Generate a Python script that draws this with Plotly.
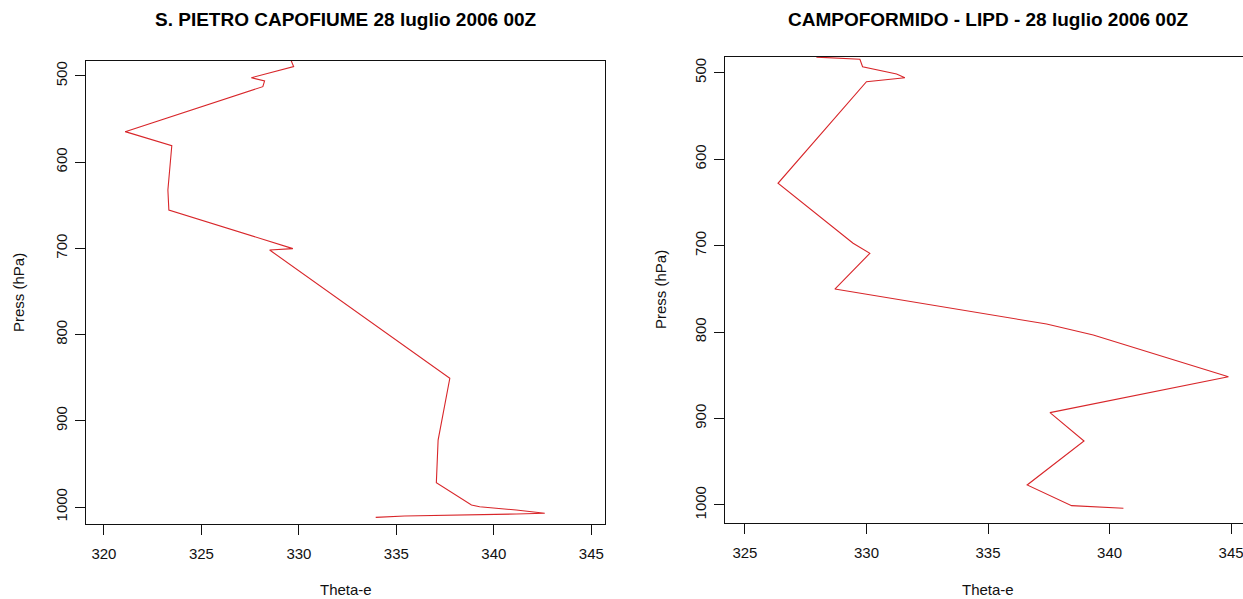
import plotly.graph_objects as go

W, H = 1243, 599

# Left: S. PIETRO CAPOFIUME
sp_theta = [329.6, 329.73, 327.56, 328.24, 328.15, 321.09, 323.48, 323.28, 323.33, 329.69, 328.5,
            337.74, 337.14, 337.05, 338.85, 339.27, 341.15, 342.61, 341.15, 338.24, 335.42, 333.94]
sp_press = [482, 489.2, 502, 505.8, 512.4, 564.6, 580.9, 632.3, 655.5, 700.3, 701.9,
            850.7, 922.3, 971.8, 997.7, 999.7, 1003.5, 1007.3, 1008.1, 1009.3, 1010.4, 1012]

# Right: CAMPOFORMIDO - LIPD
cf_theta = [327.94, 329.73, 329.84, 331.24, 331.58, 330.0, 326.36, 329.45, 330.14, 328.70,
            337.41, 339.33, 344.89, 337.55, 338.95, 336.61, 338.44, 340.57]
cf_press = [482, 484.5, 493.1, 501.5, 505.8, 510.4, 627.9, 697.3, 708.9, 750.2,
            790.7, 803.4, 851.6, 893.2, 926, 976.9, 1000.8, 1003.8]

left_xticks = [320, 325, 330, 335, 340, 345]
right_xticks = [325, 330, 335, 340, 345]
yticks = [500, 600, 700, 800, 900, 1000]

title_left = "S. PIETRO CAPOFIUME 28 luglio 2006 00Z"
title_right = "CAMPOFORMIDO - LIPD - 28 luglio 2006 00Z"

def px(x):
    return x / W

def py(y):
    return 1 - y / H

LINE = "#d8262a"
FONT = "Liberation Sans, Arial, sans-serif"

fig = go.Figure()
fig.add_trace(go.Scatter(x=sp_theta, y=sp_press, mode="lines", line=dict(color=LINE, width=1.1),
                         xaxis="x", yaxis="y", showlegend=False, hoverinfo="skip"))
fig.add_trace(go.Scatter(x=cf_theta, y=cf_press, mode="lines", line=dict(color=LINE, width=1.1),
                         xaxis="x2", yaxis="y2", showlegend=False, hoverinfo="skip"))

axcommon = dict(showgrid=False, zeroline=False, showline=True, linecolor="#111", linewidth=1,
                ticks="outside", ticklen=10, tickcolor="#111", tickwidth=1,
                ticklabeloverflow="allow",
                tickfont=dict(family=FONT, size=15, color="#111"))

fig.update_layout(
    width=W, height=H,
    margin=dict(l=0, r=0, t=0, b=0),
    paper_bgcolor="white", plot_bgcolor="white",
    xaxis=dict(domain=[px(86), px(605)], range=[319.08, 345.7], tickvals=left_xticks,
               anchor="y", mirror=True, ticklabelstandoff=6, **axcommon),
    yaxis=dict(domain=[py(524), py(60.7)], range=[1019.7, 482.3], tickvals=yticks,
               anchor="x", mirror=True, tickangle=-90, ticklabelstandoff=2, **axcommon),
    xaxis2=dict(domain=[px(725), 1.0], range=[324.18, 345.49], tickvals=right_xticks,
                anchor="y2", mirror=True, ticklabelstandoff=6, **axcommon),
    yaxis2=dict(domain=[py(523.3), py(56.7)], range=[1021.2, 481.5], tickvals=yticks,
                anchor="x2", mirror=False, tickangle=-90, ticklabelstandoff=2, **axcommon),
)

ann = []
ann.append(dict(text="<b>%s</b>" % title_left, x=px(346), y=py(20), xref="paper", yref="paper",
                xanchor="center", yanchor="middle",
                showarrow=False, font=dict(family=FONT, size=19, color="#000")))
ann.append(dict(text="<b>%s</b>" % title_right, x=px(988), y=py(20), xref="paper", yref="paper",
                xanchor="center", yanchor="middle",
                showarrow=False, font=dict(family=FONT, size=19, color="#000")))
for cx in (346, 988):
    ann.append(dict(text="Theta-e", x=px(cx), y=py(589), xref="paper", yref="paper",
                    xanchor="center", yanchor="middle",
                    showarrow=False, font=dict(family=FONT, size=15, color="#111")))
for cx, cy in ((18, 293), (660, 290)):
    ann.append(dict(text="Press (hPa)", x=px(cx), y=py(cy), xref="paper", yref="paper",
                    xanchor="center", yanchor="middle",
                    showarrow=False, textangle=-90, font=dict(family=FONT, size=15, color="#111")))
fig.update_layout(annotations=ann)

fig.write_html("out.html",
               config={"displayModeBar": False},
               post_script="document.body.style.margin='0';document.body.style.overflow='hidden';")
